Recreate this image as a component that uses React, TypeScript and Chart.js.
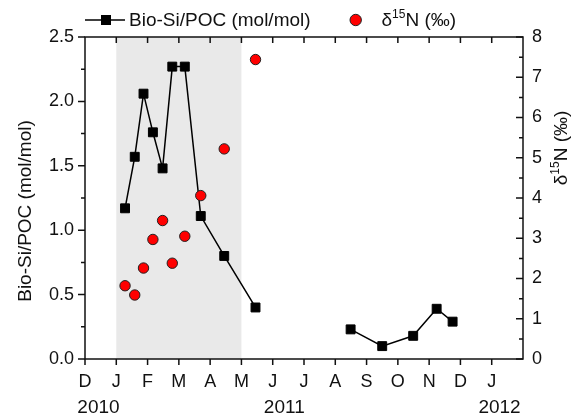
import { useEffect, useRef } from 'react';
import { Chart, registerables } from 'chart.js';

Chart.register(...registerables);

// ---- Data (x in months counted from 1 Dec, axis start) ----
const monthLabels = ['D', 'J', 'F', 'M', 'A', 'M', 'J', 'J', 'A', 'S', 'O', 'N', 'D', 'J'];
const yearLabels = ['2010', '2011', '2012'];
const yearPositions = [0.43, 6.37, 13.25];

const bioSiDates = [1.28, 1.59, 1.87, 2.17, 2.48, 2.79, 3.19, 3.70, 4.45, 5.45, 8.49, 9.50, 10.49, 11.24, 11.75];
const bioSiPoc = [1.17, 1.57, 2.06, 1.76, 1.48, 2.27, 2.27, 1.11, 0.80, 0.40, 0.23, 0.10, 0.18, 0.39, 0.29];

const d15nDates = [1.28, 1.59, 1.87, 2.17, 2.48, 2.79, 3.19, 3.70, 4.45, 5.45];
const d15n = [1.82, 1.59, 2.26, 2.97, 3.44, 2.38, 3.05, 4.06, 5.22, 7.44];

const shadeStart = 1; // Jan
const shadeEnd = 5; // May

const FONT = '"Liberation Sans", Arial, Helvetica, sans-serif';
const TICK_SIZE = 18;
const TITLE_SIZE = 19;

function drawDeltaLabel(ctx: CanvasRenderingContext2D, x: number, y: number, measureOnly = false): number {
  const big = `${TITLE_SIZE}px ${FONT}`;
  const small = `12px ${FONT}`;
  ctx.font = big;
  const w1 = ctx.measureText('δ').width;
  ctx.font = small;
  const w2 = ctx.measureText('15').width;
  ctx.font = big;
  const w3 = ctx.measureText('N (‰)').width;
  if (!measureOnly) {
    ctx.textAlign = 'left';
    ctx.textBaseline = 'middle';
    ctx.font = big;
    ctx.fillText('δ', x, y + 1);
    ctx.font = small;
    ctx.fillText('15', x + w1, y - 5);
    ctx.font = big;
    ctx.fillText('N (‰)', x + w1 + w2, y + 1);
  }
  return w1 + w2 + w3;
}

const decorPlugin = {
  id: 'decor',
  beforeDatasetsDraw(chart: any) {
    const { ctx, chartArea, scales } = chart;
    const x = scales.x;
    ctx.save();
    ctx.fillStyle = '#e9e9e9';
    const x0 = x.getPixelForValue(shadeStart);
    const x1 = x.getPixelForValue(shadeEnd);
    ctx.fillRect(x0, chartArea.top, x1 - x0, chartArea.bottom - chartArea.top);
    ctx.restore();
  },
  afterDraw(chart: any) {
    const { ctx, chartArea, scales } = chart;
    const { left, right, top, bottom } = chartArea;
    const x = scales.x;
    const y = scales.y;
    const y2 = scales.y2;
    ctx.save();
    ctx.strokeStyle = '#111';
    ctx.lineWidth = 1.5;
    ctx.strokeRect(left, top, right - left, bottom - top);

    ctx.beginPath();
    // left axis ticks (outward)
    for (let v = 0; v <= 2.5001; v += 0.25) {
      const py = y.getPixelForValue(v);
      const major = Math.abs(v / 0.5 - Math.round(v / 0.5)) < 1e-6;
      ctx.moveTo(left, py);
      ctx.lineTo(left - (major ? 7 : 4), py);
    }
    // right axis ticks (inward)
    for (let v = 0; v <= 8.0001; v += 0.5) {
      const py = y2.getPixelForValue(v);
      const major = Math.abs(v - Math.round(v)) < 1e-6;
      ctx.moveTo(right, py);
      ctx.lineTo(right - (major ? 7 : 4), py);
    }
    // bottom (outward) and top (inward) ticks
    for (let m = 0; m < monthLabels.length; m++) {
      const px = x.getPixelForValue(m);
      ctx.moveTo(px, bottom);
      ctx.lineTo(px, bottom + 6);
      if (m > 0) {
        ctx.moveTo(px, top);
        ctx.lineTo(px, top + 6);
      }
    }
    ctx.stroke();

    ctx.fillStyle = '#111';
    // year labels
    ctx.font = `${TITLE_SIZE}px ${FONT}`;
    ctx.textAlign = 'center';
    ctx.textBaseline = 'middle';
    yearLabels.forEach((lab, i) => {
      ctx.fillText(lab, x.getPixelForValue(yearPositions[i]), bottom + 49);
    });

    // left axis title
    ctx.save();
    ctx.translate(26, 211);
    ctx.rotate(-Math.PI / 2);
    ctx.font = `${TITLE_SIZE}px ${FONT}`;
    ctx.textAlign = 'center';
    ctx.textBaseline = 'middle';
    ctx.fillText('Bio-Si/POC (mol/mol)', 0, 0);
    ctx.restore();

    // right axis title
    ctx.save();
    ctx.translate(561, 148);
    ctx.rotate(-Math.PI / 2);
    const w = drawDeltaLabel(ctx, 0, 0, true);
    drawDeltaLabel(ctx, -w / 2, 0);
    ctx.restore();

    // legend
    const ly = 20;
    ctx.strokeStyle = '#000';
    ctx.lineWidth = 1.5;
    ctx.beginPath();
    ctx.moveTo(85, ly);
    ctx.lineTo(125, ly);
    ctx.stroke();
    ctx.fillStyle = '#000';
    ctx.fillRect(106 - 5, ly - 5, 10, 10);
    ctx.font = `${TITLE_SIZE}px ${FONT}`;
    ctx.textAlign = 'left';
    ctx.textBaseline = 'middle';
    ctx.fillStyle = '#111';
    ctx.fillText('Bio-Si/POC (mol/mol)', 129, ly + 1);
    ctx.beginPath();
    ctx.arc(355.7, ly, 5.7, 0, Math.PI * 2);
    ctx.fillStyle = '#ff0000';
    ctx.fill();
    ctx.lineWidth = 1;
    ctx.strokeStyle = '#222';
    ctx.stroke();
    ctx.fillStyle = '#111';
    drawDeltaLabel(ctx, 381.5, ly);
    ctx.restore();
  },
};

export default function App() {
  const ref = useRef<HTMLCanvasElement | null>(null);
  useEffect(() => {
    if (!ref.current) return;
    const chart = new Chart(ref.current, {
      type: 'line',
      data: {
        datasets: [
          {
            label: 'δ15N (‰)',
            data: d15nDates.map((d, i) => ({ x: d, y: d15n[i] })),
            yAxisID: 'y2',
            showLine: false,
            pointStyle: 'circle',
            pointRadius: 5.2,
            pointBackgroundColor: '#ff0000',
            pointBorderColor: '#222',
            pointBorderWidth: 1,
            order: 0,
          },
          {
            label: 'Bio-Si/POC (mol/mol)',
            data: bioSiDates.map((d, i) => ({ x: d, y: bioSiPoc[i] })),
            yAxisID: 'y',
            borderColor: '#000',
            borderWidth: 1.5,
            pointStyle: 'rect',
            pointRadius: 6.3,
            pointBackgroundColor: '#000',
            pointBorderColor: '#000',
            pointBorderWidth: 1,
            tension: 0,
            segment: {
              borderColor: (ctx: any) => (ctx.p1.parsed.x - ctx.p0.parsed.x > 2 ? 'rgba(0,0,0,0)' : '#000'),
            },
            order: 1,
          },
        ],
      },
      options: {
        responsive: false,
        animation: false,
        events: [],
        layout: { padding: { top: 37, left: 0, right: 0, bottom: 0 } },
        plugins: { legend: { display: false }, tooltip: { enabled: false } },
        scales: {
          x: {
            type: 'linear',
            min: 0,
            max: 14,
            grid: { display: false, drawTicks: false },
            border: { display: false },
            afterFit: (s: any) => { s.height = 61; },
            ticks: {
              stepSize: 1,
              autoSkip: false,
              maxRotation: 0,
              padding: 12,
              color: '#111',
              font: { family: FONT, size: TICK_SIZE },
              callback: (v: any) => monthLabels[Math.round(Number(v))] ?? '',
            },
          },
          y: {
            type: 'linear',
            position: 'left',
            min: 0,
            max: 2.5,
            grid: { display: false, drawTicks: false },
            border: { display: false },
            afterFit: (s: any) => { s.width = 85; },
            ticks: {
              stepSize: 0.5,
              padding: 11,
              color: '#111',
              font: { family: FONT, size: TICK_SIZE },
              callback: (v: any) => Number(v).toFixed(1),
            },
          },
          y2: {
            type: 'linear',
            position: 'right',
            min: 0,
            max: 8,
            grid: { display: false, drawTicks: false },
            border: { display: false },
            afterFit: (s: any) => { s.width = 61; },
            ticks: {
              stepSize: 1,
              padding: 9,
              color: '#111',
              font: { family: FONT, size: TICK_SIZE },
              callback: (v: any) => String(v),
            },
          },
        },
      },
      plugins: [decorPlugin],
    });
    return () => chart.destroy();
  }, []);
  return (
    <div style={{ position: 'fixed', left: 0, top: 0, width: 584, height: 420, background: '#fff' }}>
      <canvas ref={ref} width={584} height={420} style={{ width: 584, height: 420 }} />
    </div>
  );
}
